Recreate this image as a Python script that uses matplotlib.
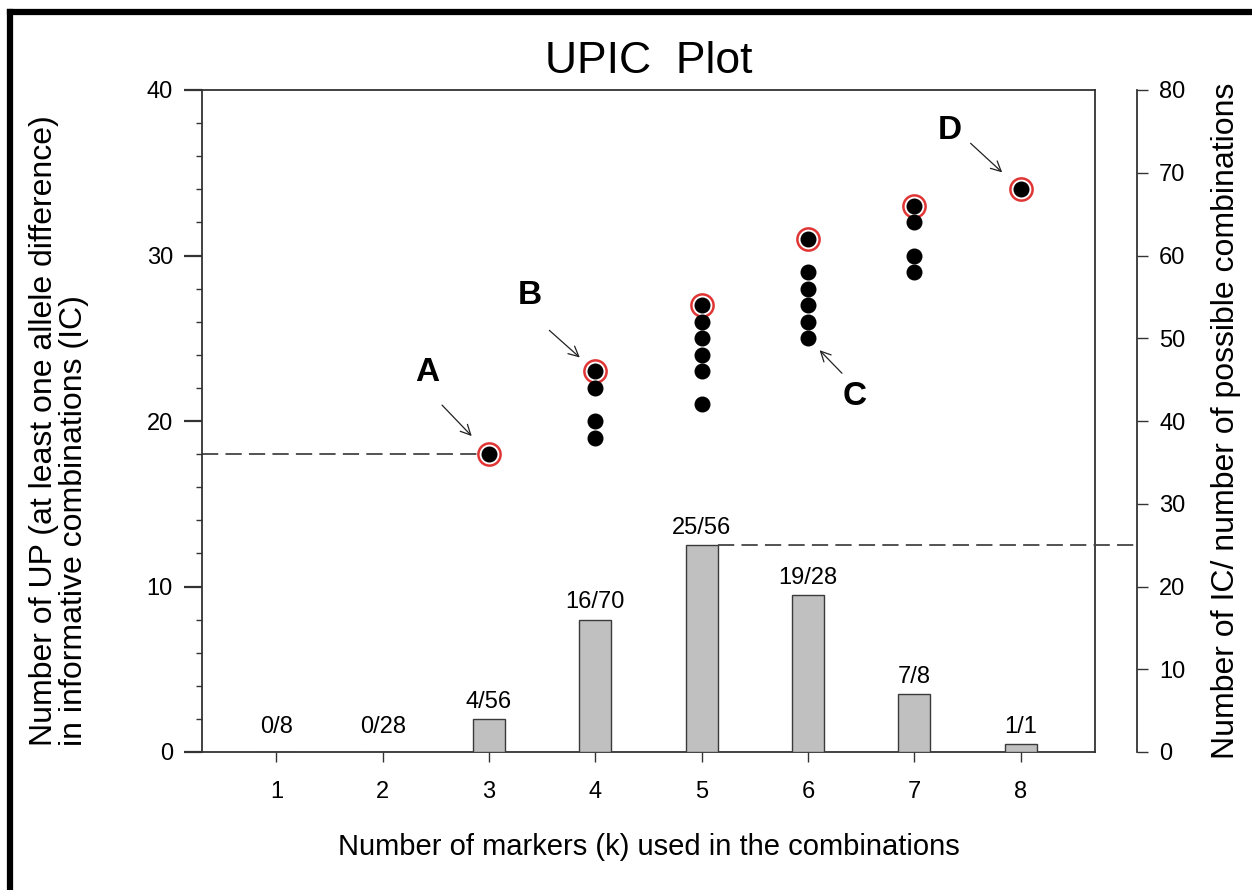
# UPIC plot: unique profiles vs number of markers, with IC bars on a second axis

import numpy as np
import matplotlib
matplotlib.use("Agg")
import matplotlib.pyplot as plt
from matplotlib.lines import Line2D
from matplotlib.ticker import MultipleLocator

# data
k_values = [1, 2, 3, 4, 5, 6, 7, 8]
ic_counts = [0, 0, 4, 16, 25, 19, 7, 1]
possible_counts = [8, 28, 56, 70, 56, 28, 8, 1]

up_k = [3, 4, 4, 4, 4, 5, 5, 5, 5, 5, 5, 6, 6, 6, 6, 6, 6, 7, 7, 7, 7, 8]
up_values = [18, 19, 20, 22, 23, 21, 23, 24, 25, 26, 27,
             25, 26, 27, 28, 29, 31, 29, 30, 32, 33, 34]

best_k = [3, 4, 5, 6, 7, 8]
best_up = [18, 23, 27, 31, 33, 34]

letters = ["A", "B", "C", "D"]
letter_k = [3, 4, 6, 8]
letter_up = [18, 23, 25, 34]
# offsets (pixels) for arrow tail / letter, relative to the point
arrow_tail = [(-47, 49), (-46, 41), (34, -35), (-50, 46)]
letter_pos = [(-62, 82), (-66, 76), (47, -58), (-71, 59)]
arrow_shrink = [18, 15, 12, 18]

narrow = ["Liberation Sans Narrow", "Liberation Sans", "DejaVu Sans"]
regular = ["Liberation Sans", "DejaVu Sans"]
plt.rcParams["font.family"] = regular

W, H = 1252, 890
fig = plt.figure(figsize=(W / 100, H / 100), dpi=100)
ax_l, ax_r, ax_b, ax_t = 202, 1095, 752, 90
ax = fig.add_axes([ax_l / W, 1 - ax_b / H, (ax_r - ax_l) / W, (ax_b - ax_t) / H])
ax.set_xlim(0.3, 8.7)
ax.set_ylim(0, 40)

edge = "#333333"
for s in ax.spines.values():
    s.set_color(edge)
    s.set_linewidth(1.3)

# upper points
ax.plot(best_k, best_up, linestyle="none", marker="o", markersize=16,
        markerfacecolor="none", markeredgecolor="#e03535", markeredgewidth=1.8, zorder=3)
ax.plot(up_k, up_values, linestyle="none", marker="o", markersize=10.5,
        color="black", zorder=4)

# dashed guide for A
dash = (0, (9, 4))
ax.plot([ax.get_xlim()[0], best_k[0]], [best_up[0], best_up[0]],
        color="#444444", lw=1.3, linestyle=dash, zorder=2)

for let, kx, uy, tail, lpos, shr in zip(letters, letter_k, letter_up,
                                        arrow_tail, letter_pos, arrow_shrink):
    ax.annotate("", xy=(kx, uy), xytext=tail, textcoords="offset pixels",
                arrowprops=dict(arrowstyle="->", color="#222222", lw=0.9,
                                shrinkA=0, shrinkB=shr, mutation_scale=18))
    ax.annotate(let, xy=(kx, uy), xytext=lpos, textcoords="offset pixels",
                ha="center", va="center", fontsize=24, fontweight="bold",
                family=regular)

ax.xaxis.set_major_locator(MultipleLocator(1))
ax.yaxis.set_major_locator(MultipleLocator(10))
ax.yaxis.set_minor_locator(MultipleLocator(2))
ax.tick_params(axis="x", which="major", direction="out", length=7, width=1,
               pad=14, labelsize=17, color=edge)
ax.tick_params(axis="y", which="major", direction="out", length=13, width=1.6,
               pad=8, labelsize=17, color=edge)
ax.tick_params(axis="y", which="minor", direction="out", length=4.5, width=1,
               color=edge)
ax.tick_params(top=False, right=False, which="both")
for lab in ax.get_xticklabels() + ax.get_yticklabels():
    lab.set_family(narrow)

ax.set_xlabel("Number of markers (k) used in the combinations", fontsize=21,
              family=narrow)
ax.xaxis.set_label_coords(0.5, -0.122)
ax.set_ylabel("Number of UP (at least one allele difference)\nin informative combinations (IC)",
              fontsize=23, multialignment="left", linespacing=1.0)
ax.yaxis.set_label_coords(-0.126, 0.486)

ax.set_title("UPIC  Plot", fontsize=32, family=narrow, pad=12)

# second axis with IC bars
ax2 = ax.twinx()
ax2.set_ylim(0, 80)
offset_px = 42
ax2.spines["right"].set_position(("outward", offset_px * 0.72))
for name in ["left", "top", "bottom"]:
    ax2.spines[name].set_visible(False)
ax2.spines["right"].set_color(edge)
ax2.spines["right"].set_linewidth(1.3)

bar_w = 0.3
ax2.bar(k_values, ic_counts, width=bar_w, color="#c0c0c0", edgecolor="#3a3a3a",
        linewidth=1, zorder=2)
for kx, c, p in zip(k_values, ic_counts, possible_counts):
    ax2.annotate(f"{c}/{p}", xy=(kx, max(c, 1)), xytext=(0, 8), textcoords="offset points",
                 ha="center", va="baseline", fontsize=17, family=narrow)

# dashed guide from tallest bar to the right axis
i_max = int(np.argmax(ic_counts))
x0, x1 = ax.get_xlim()
px_per_unit = (ax_r - ax_l) / (x1 - x0)
x_end = x1 + offset_px / px_per_unit
ax2.plot([k_values[i_max] + bar_w / 2, x_end], [ic_counts[i_max], ic_counts[i_max]],
         color="#444444", lw=1.3, linestyle=dash, clip_on=False, zorder=2)

ax2.yaxis.set_major_locator(MultipleLocator(10))
ax2.tick_params(axis="y", direction="out", length=8, width=1, pad=8,
                labelsize=17, color=edge)
ax2.set_ylabel("Number of IC/ number of possible combinations", fontsize=23)
ax2.yaxis.set_label_coords(1.13, 0.5)

# thick frame on the left and top of the image
fig.add_artist(Line2D([10 / W, 10 / W], [0, 1 - 12 / H], color="black", lw=4.5,
                      transform=fig.transFigure, solid_capstyle="projecting"))
fig.add_artist(Line2D([10 / W, 1], [1 - 12 / H, 1 - 12 / H], color="black", lw=4.5,
                      transform=fig.transFigure, solid_capstyle="projecting"))

fig.savefig("out.png", dpi=100)
